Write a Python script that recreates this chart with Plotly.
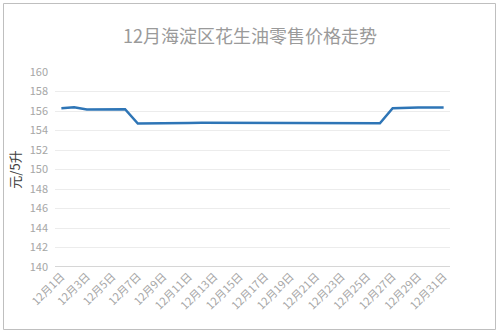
import plotly.graph_objects as go

days = [f"12月{d}日" for d in range(1, 32)]
prices = [156.28, 156.38, 156.15, 156.15, 156.2, 156.18, 154.72, 154.72, 154.72, 154.76,
          154.78, 154.8, 154.8, 154.8, 154.8, 154.8, 154.8, 154.8, 154.8, 154.8,
          154.75, 154.75, 154.75, 154.75, 154.75, 154.75, 156.28, 156.35, 156.35, 156.35, 156.35]
tick_labels = days[::2]
title_text = "12月海淀区花生油零售价格走势"
y_title = "元/5升"

font_family = "Noto Sans CJK SC"

fig = go.Figure()
fig.add_trace(go.Scatter(x=days, y=prices, mode="lines",
                         line=dict(color="#2e75b6", width=2.5), showlegend=False))

L, R, T, B = 55, 50, 72, 66
W, H = 500, 333
pw, ph = W - L - R, H - T - B

def px(x):
    return (x - L) / pw

def py(y):
    return (H - B - y) / ph

fig.add_shape(type="rect", xref="paper", yref="paper",
              x0=px(3.5), x1=px(495.5), y0=py(329.5), y1=py(3.5),
              line=dict(color="#bfbfbf", width=1), fillcolor="rgba(0,0,0,0)", layer="below")

fig.update_layout(
    width=W, height=H,
    margin=dict(l=L, r=R, t=T, b=B),
    paper_bgcolor="white", plot_bgcolor="white",
    font=dict(family=font_family),
    title=dict(text=title_text, x=0.5, xref="container", y=1 - 37 / H, yref="container",
               xanchor="center", yanchor="middle",
               font=dict(size=18, color="#9a9a9a", family=font_family)),
    xaxis=dict(type="category", range=[-0.5, 30.5], tickmode="array",
               tickvals=tick_labels, ticktext=tick_labels, tickangle=-45,
               tickfont=dict(size=11, color="#a6a6a6"), showgrid=False,
               showline=False, ticks="", zeroline=False),
    yaxis=dict(range=[140, 160], dtick=2, tickfont=dict(size=11, color="#a6a6a6"),
               gridcolor="#ececec", gridwidth=1, showline=False, zeroline=False,
               ticks="", ticklabelstandoff=6,
               title=dict(text=y_title, font=dict(size=13, color="#404040"), standoff=6)),
)

fig.add_shape(type="line", xref="paper", yref="y", x0=0, x1=1, y0=140, y1=140,
              line=dict(color="#c8c8c8", width=1.5))

fig.write_html("out.html")
